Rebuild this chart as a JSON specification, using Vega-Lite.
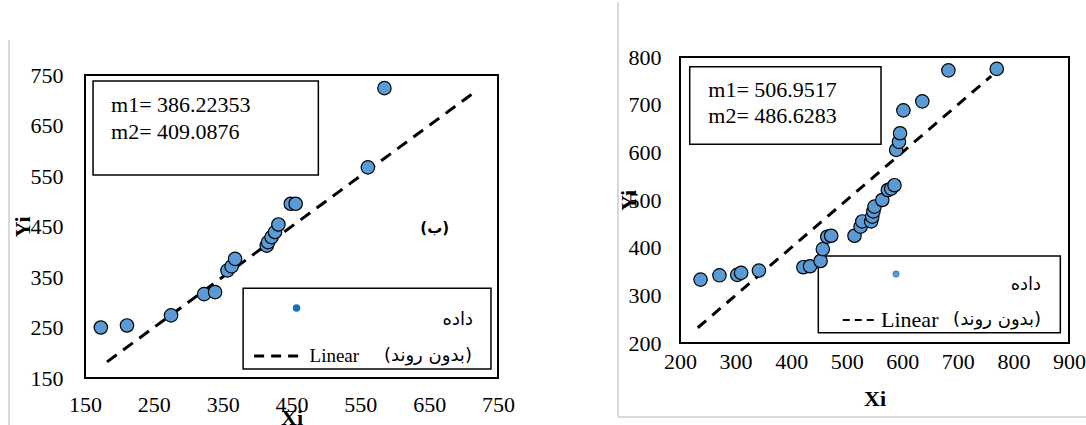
{
  "$schema": "https://vega.github.io/schema/vega-lite/v6.json",
  "background": "white",
  "padding": {"left": 7, "top": 0, "right": 0, "bottom": 0},
  "spacing": 99,
  "datasets": {
    "left_pts": [
      {"x": 173, "y": 250}, {"x": 211, "y": 254}, {"x": 275, "y": 274}, {"x": 323, "y": 316},
      {"x": 339, "y": 320}, {"x": 357, "y": 363}, {"x": 363, "y": 371}, {"x": 368, "y": 386},
      {"x": 414, "y": 412}, {"x": 416, "y": 419}, {"x": 421, "y": 429}, {"x": 426, "y": 439},
      {"x": 431, "y": 454}, {"x": 449, "y": 495}, {"x": 456, "y": 495}, {"x": 561, "y": 567},
      {"x": 585, "y": 724}
    ],
    "left_line": [{"x": 182, "y": 182}, {"x": 715, "y": 715}],
    "right_pts": [
      {"x": 237, "y": 333}, {"x": 271, "y": 342}, {"x": 303, "y": 343}, {"x": 310, "y": 347},
      {"x": 342, "y": 352}, {"x": 422, "y": 359}, {"x": 434, "y": 361}, {"x": 453, "y": 372},
      {"x": 457, "y": 397}, {"x": 465, "y": 423}, {"x": 472, "y": 425}, {"x": 514, "y": 425},
      {"x": 525, "y": 444}, {"x": 528, "y": 455}, {"x": 544, "y": 455}, {"x": 546, "y": 465},
      {"x": 548, "y": 476}, {"x": 550, "y": 486}, {"x": 564, "y": 500}, {"x": 574, "y": 521},
      {"x": 580, "y": 524}, {"x": 586, "y": 531}, {"x": 589, "y": 605}, {"x": 594, "y": 622},
      {"x": 596, "y": 640}, {"x": 602, "y": 688}, {"x": 636, "y": 707}, {"x": 683, "y": 772},
      {"x": 770, "y": 775}
    ],
    "right_line": [{"x": 232, "y": 232}, {"x": 760, "y": 760}],
    "one": [{}]
  },
  "hconcat": [
    {
      "spacing": -23,
      "vconcat": [
        {
          "width": 10,
          "height": 1,
          "view": {"stroke": null},
          "data": {"name": "one"},
          "mark": {"type": "point", "opacity": 0},
          "encoding": {}
        },
        {
          "width": 413,
          "height": 303,
          "layer": [
            {
              "data": {"name": "one"},
              "mark": {"type": "rule", "color": "#D9D9D9", "strokeWidth": 2, "clip": false},
              "encoding": {
                "x": {"datum": 39.6, "type": "quantitative", "title": "Xi"},
                "y": {"datum": 819, "type": "quantitative", "title": "Yi"},
                "y2": {"datum": 27}
              }
            },
            {
              "data": {"name": "one"},
              "mark": {"type": "rect", "fill": "white", "stroke": "black", "strokeWidth": 1.5},
              "encoding": {
                "x": {"datum": 161.7, "type": "quantitative", "title": "Xi"},
                "x2": {"datum": 489},
                "y": {"datum": 738, "type": "quantitative", "title": "Yi"},
                "y2": {"datum": 552}
              }
            },
            {
              "data": {"name": "one"},
              "mark": {"type": "rect", "fill": "white", "stroke": "black", "strokeWidth": 1.5},
              "encoding": {
                "x": {"datum": 379.7, "type": "quantitative", "title": "Xi"},
                "x2": {"datum": 739.8},
                "y": {"datum": 327.7, "type": "quantitative", "title": "Yi"},
                "y2": {"datum": 167.9}
              }
            },
            {
              "data": {"name": "left_line"},
              "mark": {"type": "line", "color": "black", "strokeDash": [12, 8], "strokeWidth": 3},
              "encoding": {
                "x": {"field": "x", "type": "quantitative", "title": "Xi"},
                "y": {"field": "y", "type": "quantitative", "title": "Yi"}
              }
            },
            {
              "data": {"name": "left_pts"},
              "mark": {"type": "point", "shape": "circle", "filled": true, "fill": "#5B9BD5", "stroke": "black", "strokeWidth": 1.2, "size": 180, "opacity": 1},
              "encoding": {
                "x": {"field": "x", "type": "quantitative", "title": "Xi",
                  "scale": {"domain": [150, 750], "nice": false, "zero": false},
                  "axis": {"values": [150, 250, 350, 450, 550, 650, 750], "labelPadding": 16, "titlePadding": -8}},
                "y": {"field": "y", "type": "quantitative", "title": "Yi",
                  "scale": {"domain": [150, 750], "nice": false, "zero": false},
                  "axis": {"values": [150, 250, 350, 450, 550, 650, 750], "labelPadding": 22, "titlePadding": -4}}
              }
            },
            {
              "data": {"name": "one"},
              "mark": {"type": "text", "text": "m1= 386.22353", "align": "left", "baseline": "middle", "font": "Liberation Serif", "fontSize": 22, "color": "black"},
              "encoding": {"x": {"datum": 187.9, "type": "quantitative", "title": "Xi"}, "y": {"datum": 690.6, "type": "quantitative", "title": "Yi"}}
            },
            {
              "data": {"name": "one"},
              "mark": {"type": "text", "text": "m2= 409.0876", "align": "left", "baseline": "middle", "font": "Liberation Serif", "fontSize": 22, "color": "black"},
              "encoding": {"x": {"datum": 187.9, "type": "quantitative", "title": "Xi"}, "y": {"datum": 637.7, "type": "quantitative", "title": "Yi"}}
            },
            {
              "data": {"name": "one"},
              "mark": {"type": "text", "text": "(ب)", "align": "center", "baseline": "middle", "font": "DejaVu Sans", "fontSize": 15, "fontWeight": "bold", "color": "black"},
              "encoding": {"x": {"datum": 658, "type": "quantitative", "title": "Xi"}, "y": {"datum": 447, "type": "quantitative", "title": "Yi"}}
            },
            {
              "data": {"name": "one"},
              "mark": {"type": "point", "shape": "circle", "filled": true, "fill": "#1F6FB5", "stroke": "#1F6FB5", "size": 30, "opacity": 1},
              "encoding": {"x": {"datum": 457.3, "type": "quantitative", "title": "Xi"}, "y": {"datum": 288.6, "type": "quantitative", "title": "Yi"}}
            },
            {
              "data": {"name": "one"},
              "mark": {"type": "text", "text": "داده", "align": "right", "baseline": "middle", "font": "DejaVu Sans", "fontSize": 18, "color": "black"},
              "encoding": {"x": {"datum": 713.6, "type": "quantitative", "title": "Xi"}, "y": {"datum": 264.9, "type": "quantitative", "title": "Yi"}}
            },
            {
              "data": {"name": "one"},
              "mark": {"type": "rule", "color": "black", "strokeDash": [10, 7], "strokeWidth": 3},
              "encoding": {"x": {"datum": 395.7, "type": "quantitative", "title": "Xi"}, "x2": {"datum": 461.6}, "y": {"datum": 193.6, "type": "quantitative", "title": "Yi"}}
            },
            {
              "data": {"name": "one"},
              "mark": {"type": "text", "text": "Linear", "align": "left", "baseline": "middle", "font": "Liberation Serif", "fontSize": 19, "color": "black"},
              "encoding": {"x": {"datum": 476.2, "type": "quantitative", "title": "Xi"}, "y": {"datum": 193.6, "type": "quantitative", "title": "Yi"}}
            },
            {
              "data": {"name": "one"},
              "mark": {"type": "text", "text": "(بدون روند)", "align": "right", "baseline": "middle", "font": "DejaVu Sans", "fontSize": 18, "color": "black"},
              "encoding": {"x": {"datum": 712.1, "type": "quantitative", "title": "Xi"}, "y": {"datum": 193.6, "type": "quantitative", "title": "Yi"}}
            }
          ]
        }
      ]
    },
    {
      "width": 389,
      "height": 286,
      "layer": [
        {
          "data": {"name": "one"},
          "mark": {"type": "rule", "color": "#D9D9D9", "strokeWidth": 2, "clip": false},
          "encoding": {
            "x": {"datum": 88.4, "type": "quantitative", "title": "Xi"},
            "y": {"datum": 915, "type": "quantitative", "title": "Yi"},
            "y2": {"datum": 44.7}
          }
        },
        {
          "data": {"name": "one"},
          "mark": {"type": "rule", "color": "#D9D9D9", "strokeWidth": 2, "clip": false},
          "encoding": {
            "x": {"datum": 88.4, "type": "quantitative", "title": "Xi"},
            "x2": {"datum": 935},
            "y": {"datum": 44.7, "type": "quantitative", "title": "Yi"}
          }
        },
        {
          "data": {"name": "one"},
          "mark": {"type": "rect", "fill": "white", "stroke": "black", "strokeWidth": 1.5},
          "encoding": {
            "x": {"datum": 217.5, "type": "quantitative", "title": "Xi"},
            "x2": {"datum": 561.7},
            "y": {"datum": 779.6, "type": "quantitative", "title": "Yi"},
            "y2": {"datum": 616.9}
          }
        },
        {
          "data": {"name": "one"},
          "mark": {"type": "rect", "fill": "white", "stroke": "black", "strokeWidth": 1.5},
          "encoding": {
            "x": {"datum": 448.9, "type": "quantitative", "title": "Xi"},
            "x2": {"datum": 884.4},
            "y": {"datum": 382.5, "type": "quantitative", "title": "Yi"},
            "y2": {"datum": 221.6}
          }
        },
        {
          "data": {"name": "right_line"},
          "mark": {"type": "line", "color": "black", "strokeDash": [11, 8], "strokeWidth": 3},
          "encoding": {
            "x": {"field": "x", "type": "quantitative", "title": "Xi"},
            "y": {"field": "y", "type": "quantitative", "title": "Yi"}
          }
        },
        {
          "data": {"name": "right_pts"},
          "mark": {"type": "point", "shape": "circle", "filled": true, "fill": "#5B9BD5", "stroke": "black", "strokeWidth": 1.2, "size": 180, "opacity": 1},
          "encoding": {
            "x": {"field": "x", "type": "quantitative", "title": "Xi",
              "scale": {"domain": [200, 900], "nice": false, "zero": false},
              "axis": {"values": [200, 300, 400, 500, 600, 700, 800, 900], "labelPadding": 8, "titlePadding": 16}},
            "y": {"field": "y", "type": "quantitative", "title": "Yi",
              "scale": {"domain": [200, 800], "nice": false, "zero": false},
              "axis": {"values": [200, 300, 400, 500, 600, 700, 800], "labelPadding": 19, "titlePadding": -12}}
          }
        },
        {
          "data": {"name": "one"},
          "mark": {"type": "text", "text": "m1= 506.9517", "align": "left", "baseline": "middle", "font": "Liberation Serif", "fontSize": 22, "color": "black"},
          "encoding": {"x": {"datum": 251, "type": "quantitative", "title": "Xi"}, "y": {"datum": 730.8, "type": "quantitative", "title": "Yi"}}
        },
        {
          "data": {"name": "one"},
          "mark": {"type": "text", "text": "m2= 486.6283", "align": "left", "baseline": "middle", "font": "Liberation Serif", "fontSize": 22, "color": "black"},
          "encoding": {"x": {"datum": 251, "type": "quantitative", "title": "Xi"}, "y": {"datum": 676.2, "type": "quantitative", "title": "Yi"}}
        },
        {
          "data": {"name": "one"},
          "mark": {"type": "point", "shape": "circle", "filled": true, "fill": "#5B9BD5", "stroke": "#2F5F8F", "strokeWidth": 0.6, "size": 40, "opacity": 1},
          "encoding": {"x": {"datum": 588.8, "type": "quantitative", "title": "Xi"}, "y": {"datum": 344.7, "type": "quantitative", "title": "Yi"}}
        },
        {
          "data": {"name": "one"},
          "mark": {"type": "text", "text": "داده", "align": "right", "baseline": "middle", "font": "DejaVu Sans", "fontSize": 18, "color": "black"},
          "encoding": {"x": {"datum": 849.8, "type": "quantitative", "title": "Xi"}, "y": {"datum": 321.7, "type": "quantitative", "title": "Yi"}}
        },
        {
          "data": {"name": "one"},
          "mark": {"type": "rule", "color": "black", "strokeDash": [7, 5], "strokeWidth": 2},
          "encoding": {"x": {"datum": 492.9, "type": "quantitative", "title": "Xi"}, "x2": {"datum": 555.9}, "y": {"datum": 248.2, "type": "quantitative", "title": "Yi"}}
        },
        {
          "data": {"name": "one"},
          "mark": {"type": "text", "text": "Linear", "align": "left", "baseline": "middle", "font": "Liberation Serif", "fontSize": 22, "color": "black"},
          "encoding": {"x": {"datum": 561.8, "type": "quantitative", "title": "Xi"}, "y": {"datum": 248.2, "type": "quantitative", "title": "Yi"}}
        },
        {
          "data": {"name": "one"},
          "mark": {"type": "text", "text": "(بدون روند)", "align": "right", "baseline": "middle", "font": "DejaVu Sans", "fontSize": 18, "color": "black"},
          "encoding": {"x": {"datum": 849.8, "type": "quantitative", "title": "Xi"}, "y": {"datum": 248.2, "type": "quantitative", "title": "Yi"}}
        }
      ]
    }
  ],
  "config": {
    "view": {"stroke": "black", "strokeWidth": 2},
    "axis": {
      "domain": false, "ticks": false, "grid": false,
      "labelFont": "Liberation Serif", "labelFontSize": 22, "labelColor": "black",
      "labelFlush": false, "labelOverlap": false,
      "titleFont": "Liberation Serif", "titleFontSize": 22, "titleFontWeight": "bold", "titleColor": "black"
    }
  }
}
